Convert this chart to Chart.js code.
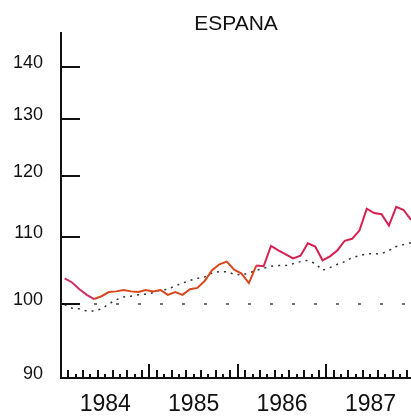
<!DOCTYPE html>
<html>
  <head>
    <title>ESPANA</title>
    <script src="https://cdn.jsdelivr.net/npm/chart.js@4/dist/chart.umd.min.js"></script>
    <style>
      body { margin: 0; background: #fff; }
      #wrap { width: 411px; height: 417px; }
    </style>
  </head>
  <body>
    <div id="wrap"><canvas id="myChart"></canvas></div>

    <script>
      // monthly values, Jan 1984 .. Dec 1987
      var years = ["1984", "1985", "1986", "1987"];
      var yTicks = [90, 100, 110, 120, 130, 140];
      var spain = [
        103.7, 103.1, 102.1, 101.3, 100.7, 101.1, 101.7, 101.8, 102.0, 101.8, 101.7, 102.0,
        101.8, 102.0, 101.3, 101.7, 101.3, 102.1, 102.3, 103.3, 104.9, 105.8, 106.2, 105.0,
        104.4, 103.0, 105.6, 105.5, 108.6, 107.9, 107.3, 106.7, 107.1, 109.0, 108.5, 106.4,
        107.0, 107.9, 109.4, 109.7, 111.0, 114.5, 113.8, 113.6, 111.8, 114.8, 114.3, 112.7
      ];
      var trend = [
        99.9, 99.4, 99.3, 99.0, 99.0, 99.3, 100.0, 100.6, 101.0, 101.1, 101.3, 101.4,
        101.6, 102.0, 102.1, 102.6, 103.0, 103.4, 103.7, 103.9, 104.5, 104.7, 104.7, 104.3,
        104.2, 104.5, 104.9, 105.2, 105.5, 105.6, 105.6, 105.9, 106.2, 106.4, 105.9, 104.9,
        105.3, 105.8, 106.2, 106.8, 107.1, 107.4, 107.4, 107.4, 107.9, 108.5, 108.8, 109.1
      ];
      var base = [100, 100];

      function toPoints(arr) {
        return arr.map(function (v, i) { return { x: i + 0.5, y: v }; });
      }

      // tick marks drawn inside the plot, like the original drawing
      var tickMarks = {
        id: "tickMarks",
        afterDatasetsDraw: function (chart) {
          var ctx = chart.ctx, area = chart.chartArea, sx = chart.scales.x, sy = chart.scales.y;
          ctx.save();
          ctx.strokeStyle = "#111";
          ctx.lineWidth = 2;
          ctx.beginPath();
          yTicks.forEach(function (v) {
            if (v <= 90) return;
            var y = Math.round(sy.getPixelForValue(v));
            ctx.moveTo(area.left, y);
            ctx.lineTo(area.left + 19, y);
          });
          ctx.stroke();
          ctx.lineWidth = 2;
          ctx.beginPath();
          for (var m = 1; m < 48; m++) {
            var x = Math.round(sx.getPixelForValue(m));
            var len = m % 12 === 0 ? 14 : (m % 2 ? 8 : 4);
            ctx.moveTo(x, area.bottom);
            ctx.lineTo(x, area.bottom - len);
          }
          ctx.stroke();
          ctx.restore();
        }
      };

      var ctx = document.getElementById("myChart").getContext("2d");
      var myChart = new Chart(ctx, {
        type: "line",
        data: {
          datasets: [
            {
              label: "Espana",
              data: toPoints(spain),
              borderColor: "#d62050",
              borderWidth: 2,
              pointRadius: 0,
              fill: false,
              segment: {
                borderColor: function (c) {
                  var i = c.p0DataIndex;
                  if (i < 4) return "#cf2f67";
                  if (i < 26) return "#d9481c";
                  return "#d62050";
                }
              }
            },
            {
              label: "Tendencia",
              data: toPoints(trend),
              borderColor: "#333",
              borderWidth: 1.5,
              borderDash: [2, 5],
              pointRadius: 0,
              fill: false
            },
            {
              label: "Base",
              data: [{ x: 0, y: base[0] }, { x: 47.5, y: base[1] }],
              borderColor: "#444",
              borderWidth: 1.5,
              borderDash: [3, 19],
              borderDashOffset: 11,
              pointRadius: 0,
              fill: false
            }
          ]
        },
        options: {
          responsive: true,
          maintainAspectRatio: false,
          animation: false,
          layout: { padding: { left: 12, right: 0, top: 0, bottom: 0 } },
          plugins: {
            legend: { display: false },
            tooltip: { enabled: false },
            title: {
              display: true,
              text: "ESPANA",
              fullSize: false,
              color: "#111",
              font: { family: "Liberation Sans", size: 21, weight: "normal", lineHeight: 0.86 },
              padding: { top: 15, bottom: 0 }
            }
          },
          scales: {
            x: {
              type: "linear",
              min: 0,
              max: 47.5,
              grid: { display: false, drawTicks: false },
              border: { display: true, color: "#111", width: 2 },
              afterBuildTicks: function (scale) {
                scale.ticks = years.map(function (y, i) { return { value: 6 + 12 * i }; });
              },
              afterFit: function (scale) { scale.height = 39; },
              ticks: {
                autoSkip: false,
                maxRotation: 0,
                padding: 13,
                color: "#111",
                font: { family: "Liberation Sans", size: 23 },
                callback: function (v) { return years[Math.round((v - 6) / 12)]; }
              }
            },
            y: {
              type: "logarithmic",
              min: 90,
              max: 147,
              grid: { display: false, drawTicks: false },
              border: { display: true, color: "#111", width: 2 },
              afterBuildTicks: function (scale) {
                scale.ticks = yTicks.map(function (v) { return { value: v }; });
              },
              afterFit: function (scale) { scale.width = 49; },
              ticks: {
                autoSkip: false,
                padding: 18,
                labelOffset: -4,
                color: "#111",
                font: { family: "Liberation Sans", size: 18 },
                callback: function (v) { return String(v); }
              }
            }
          }
        },
        plugins: [tickMarks]
      });
    </script>
  </body>
</html>
